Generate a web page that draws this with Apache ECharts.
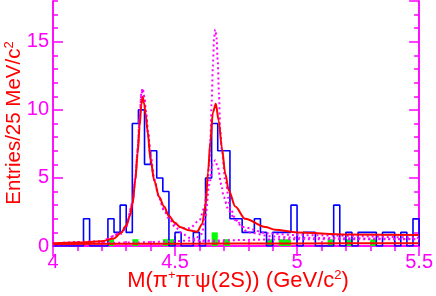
<!DOCTYPE html>
<html><head><meta charset="utf-8">
<script src="https://cdn.jsdelivr.net/npm/echarts@6/dist/echarts.min.js"></script>
<style>html,body{margin:0;padding:0;background:#fff}#c{width:436px;height:296px}</style>
</head><body><div id="c"></div>
<script>
// ---- data ----
const binStart = 4.0;
const binWidth = 0.025;
const counts = [0,0,0,0,0,2,0,0,0,2, 1,3,1,9,10,6,7,5,4,0, 1,0,0,1,0,5,9,7,7,2, 2,1,1,2,1,0,1,1,1,3, 0,1,1,0,0,0,3,0,1,0, 1,1,1,0,1,1,0,1,0,2];
const bkgCounts = [0,0,0,0,0,0,0,0,0,0.5, 0,0,0,0.5,0,0,0,0,0.5,0.5, 0,0,0,0,0,0,1,0,0.5,0, 0,0,0,0,0,0.5,0,0.5,0.5,0, 0,0,0,0,0,0.5,0,0,0.5,0, 0,0,0.5,0,0,0,0,0,0,0];
const redFit = [[4.00,0.2],[4.10,0.25],[4.20,0.35],[4.25,0.55],[4.28,1.0],[4.30,1.5],[4.315,2.2],[4.326,3.1],[4.337,4.8],[4.347,6.8],[4.355,8.8],[4.362,10.4],[4.367,10.95],[4.373,10.5],[4.38,9.6],[4.387,8.5],[4.40,6.3],[4.415,4.8],[4.435,3.6],[4.455,2.9],[4.475,2.2],[4.50,1.7],[4.52,1.4],[4.557,1.15],[4.59,1.05],[4.611,1.6],[4.625,3.0],[4.635,5.4],[4.645,7.7],[4.655,9.8],[4.667,10.46],[4.679,9.2],[4.692,7.2],[4.706,5.3],[4.72,4.1],[4.747,2.9],[4.787,2.0],[4.87,1.4],[4.91,1.2],[5.0,1.0],[5.2,0.85],[5.5,0.8]];
const redBkg = [[4.0,0.15],[4.5,0.17],[5.0,0.19],[5.5,0.2]];
const magTotal = [[4.0,0.2],[4.2,0.35],[4.28,1.0],[4.30,1.5],[4.326,3.2],[4.337,5.0],[4.347,7.2],[4.355,9.5],[4.362,11.2],[4.367,11.6],[4.374,11.0],[4.38,10.0],[4.39,8.3],[4.40,6.6],[4.415,4.9],[4.435,3.6],[4.455,2.7],[4.476,2.2],[4.50,1.6],[4.53,1.3],[4.56,1.3],[4.60,1.9],[4.62,2.8],[4.631,4.1],[4.640,6.0],[4.645,7.8],[4.650,10.5],[4.655,13.2],[4.660,15.3],[4.665,15.9],[4.670,15.3],[4.675,13.6],[4.680,11.2],[4.685,8.6],[4.692,7.0],[4.706,4.8],[4.726,2.8],[4.75,1.9],[4.774,1.4],[4.88,0.93],[5.0,0.8],[5.5,0.6]];
const magPeak1 = [[4.2,0.3],[4.28,0.9],[4.30,1.4],[4.326,3.1],[4.337,4.9],[4.347,7.1],[4.355,9.4],[4.362,11.1],[4.367,11.5],[4.374,10.9],[4.38,9.9],[4.39,8.2],[4.40,6.5],[4.415,4.8],[4.435,3.5],[4.455,2.6],[4.476,2.0],[4.50,1.4],[4.53,0.9],[4.56,0.6],[4.611,0.35],[4.7,0.3]];
const magPeak2 = [[4.59,0.6],[4.61,0.9],[4.625,2.2],[4.64,4.5],[4.655,6.0],[4.665,6.3],[4.675,5.8],[4.69,4.5],[4.699,3.6],[4.72,2.6],[4.747,1.9],[4.8,1.0],[4.9,0.7],[5.0,0.6],[5.5,0.5]];
const magBkg = [[4.0,0.1],[4.3,0.25],[4.6,0.4],[5.0,0.5],[5.5,0.5]];
const xTicks = [4, 4.5, 5, 5.5];
const yTicks = [0, 5, 10, 15];

// ---- build ----
const histPts = counts.map((c,i)=>[binStart+i*binWidth, c]);
histPts.push([binStart+counts.length*binWidth, counts[counts.length-1]]);
histPts.push([binStart+counts.length*binWidth, 0]);
const bkgBars = bkgCounts.map((c,i)=>[binStart+i*binWidth, c]).filter(d=>d[1]>0);

const MAG = '#ff00ff', RED = '#ff0000';
const FONT = '"Liberation Sans", Arial, sans-serif';
const XMIN = xTicks[0], XMAX = xTicks[xTicks.length-1], YMAX = 18;

function xAx(pos, labels){
  return {type:'value', min:XMIN, max:XMAX, interval:0.5, position:pos,
    axisLine:{lineStyle:{color:MAG,width:1.5}},
    axisTick:{inside:true,length:10,lineStyle:{color:MAG,width:1.5}},
    minorTick:{show:true,splitNumber:5,length:5,lineStyle:{color:MAG,width:1.5}},
    axisLabel:{show:labels,color:MAG,fontSize:20,fontFamily:FONT,margin:6,
      formatter:v=>String(v)},
    splitLine:{show:false}};
}
function yAx(pos, major, labels){
  return {type:'value', min:0, max:YMAX, interval: major?5:1, position:pos,
    axisLine:{show:true,lineStyle:{color:MAG,width:1.5}},
    axisTick:{inside:true,length: major?10:5,lineStyle:{color:MAG,width:1.5}},
    axisLabel:{show:labels,color:MAG,fontSize:20,fontFamily:FONT,margin:4,showMaxLabel:false,
      formatter:v=> yTicks.indexOf(v)>=0 ? String(v) : ''},
    splitLine:{show:false}};
}
function curve(data, color, dotted, z){
  return {type:'line', data, xAxisIndex:0, yAxisIndex:0, symbol:'none', smooth:0.3, smoothMonotone:'x',
    lineStyle:{color, width:2, type: dotted ? [2,3] : 'solid'}, z, silent:true};
}

const chart = echarts.init(document.getElementById('c'), null, {renderer:'canvas'});
chart.setOption({
  animation:false,
  backgroundColor:'#fff',
  grid:{left:53, right:13, top:1, bottom:50},
  xAxis:[xAx('bottom',true), xAx('top',false)],
  yAxis:[yAx('left',true,true), yAx('left',false,false), yAx('right',true,false), yAx('right',false,false)],
  series:[
    {type:'custom', data:bkgBars, xAxisIndex:0, yAxisIndex:0, z:1,
      renderItem:(params, api)=>{
        const x0 = api.value(0), h = api.value(1);
        const p0 = api.coord([x0,0]), p1 = api.coord([x0+binWidth,h]);
        return {type:'rect', shape:{x:p0[0], y:p1[1], width:p1[0]-p0[0], height:p0[1]-p1[1]}, style:{fill:'#00ff00'}};
      }},
    {type:'line', data:histPts, step:'end', symbol:'none', xAxisIndex:0, yAxisIndex:0, z:2,
      lineStyle:{color:'#0000ff', width:1.6}},
    curve(magBkg, MAG, true, 3),
    curve(magPeak1, MAG, true, 3),
    curve(magPeak2, MAG, true, 3),
    curve(magTotal, MAG, true, 3),
    curve(redBkg, RED, false, 4),
    curve(redFit, RED, false, 4)
  ],
  graphic:[
    {type:'text', x:238, y:281, z:10,
      style:{text:'M(π{sup|+}π{sup|-}ψ(2S)) (GeV/c{sup|2})', fill:RED, font:'22px '+FONT,
        textAlign:'center', textVerticalAlign:'middle', lineHeight:24,
        rich:{sup:{fontSize:13, fontFamily:FONT, fill:RED, verticalAlign:'top'}}}},
    {type:'text', x:14, y:123, rotation:Math.PI/2, z:10,
      style:{text:'Entries/25 MeV/c{sup|2}', fill:RED, font:'20.5px '+FONT,
        textAlign:'center', textVerticalAlign:'middle', lineHeight:22,
        rich:{sup:{fontSize:13, fontFamily:FONT, fill:RED, verticalAlign:'top'}}}}
  ]
});
</script></body></html>
